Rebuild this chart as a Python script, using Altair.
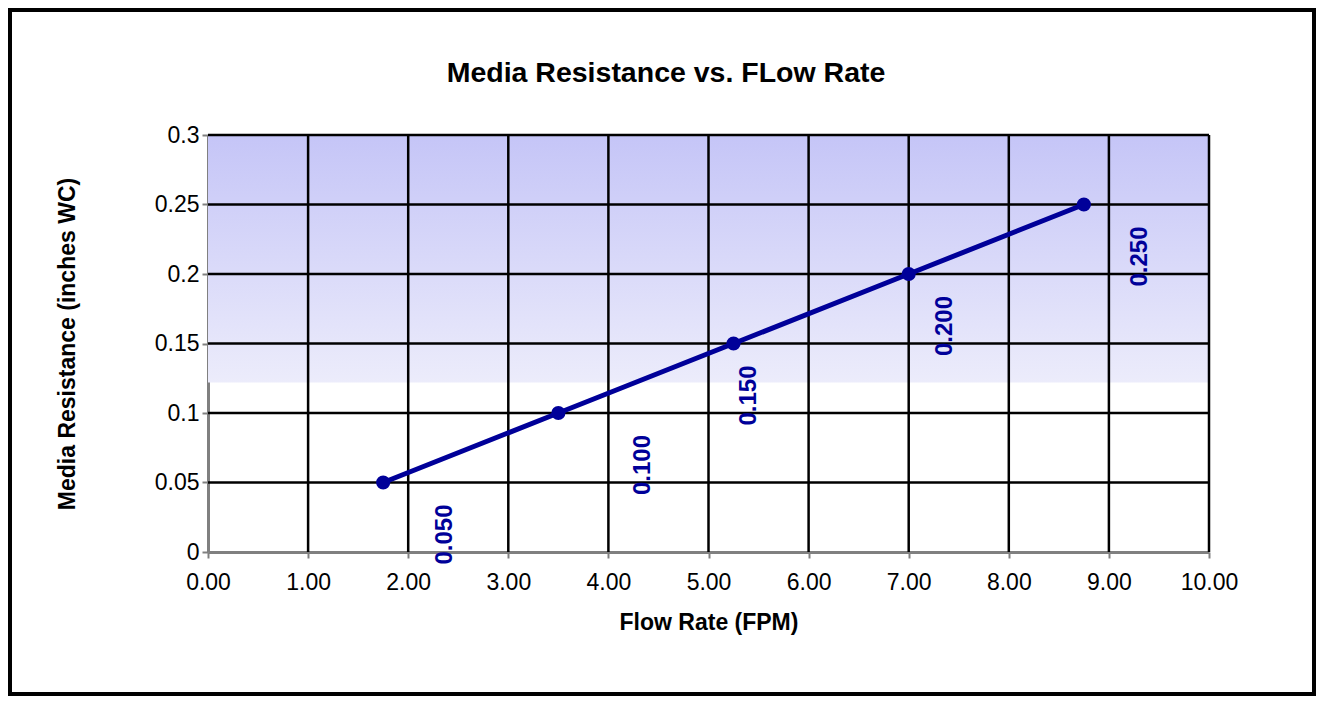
import altair as alt
import pandas as pd

# ---- data ----
flow_rate = [1.75, 3.50, 5.25, 7.00, 8.75]
resistance = [0.05, 0.10, 0.15, 0.20, 0.25]
label_text = ["0.050", "0.100", "0.150", "0.200", "0.250"]
label_flow = [2.37, 4.35, 5.40, 7.36, 9.31]
x_ticks = [0, 1, 2, 3, 4, 5, 6, 7, 8, 9, 10]
y_ticks = [0, 0.05, 0.10, 0.15, 0.20, 0.25, 0.30]
band_top, band_bottom = 0.30, 0.122   # extent of the shaded band
title_text = "Media Resistance vs. FLow Rate"

FONT = "Liberation Sans"
BLUE = "#000099"
GRID = "#000000"
AXISGRAY = "#808080"

df = pd.DataFrame({"flow": flow_rate, "res": resistance,
                   "label": label_text, "lflow": label_flow})
xg = pd.DataFrame({"flow": x_ticks[1:], "res": y_ticks[0], "res2": y_ticks[-1]})
yg = pd.DataFrame({"res": y_ticks[1:], "flow": x_ticks[0], "flow2": x_ticks[-1]})
band = pd.DataFrame({"flow": [x_ticks[0]], "flow2": [x_ticks[-1]],
                     "res": [band_top], "res2": [band_bottom]})
ttl = pd.DataFrame({"t": [title_text]})

xscale = alt.Scale(domain=[0, 10], nice=False, zero=False)
yscale = alt.Scale(domain=[0, 0.3], nice=False, zero=False)

x_axis = alt.Axis(
    values=x_ticks, format=".2f", grid=False, labelFlush=False, labelOverlap=False,
    labelFont=FONT, labelFontSize=23, labelColor="#000000", labelPadding=13,
    title="Flow Rate (FPM)", titleFont=FONT, titleFontSize=23,
    titleFontWeight="bold", titleColor="#000000", titlePadding=17,
    domainColor=AXISGRAY, domainWidth=3,
    tickColor=AXISGRAY, tickWidth=2, tickSize=6,
)
y_axis = alt.Axis(
    values=y_ticks, format="~g", grid=False, labelFlush=False, labelOverlap=False,
    labelFont=FONT, labelFontSize=23, labelColor="#000000", labelPadding=3,
    title="Media Resistance (inches WC)", titleFont=FONT, titleFontSize=23,
    titleFontWeight="bold", titleColor="#000000", titlePadding=75,
    domainColor=AXISGRAY, domainWidth=3,
    tickColor=AXISGRAY, tickWidth=2, tickSize=6,
)

X = alt.X("flow:Q", scale=xscale, axis=x_axis)
Y = alt.Y("res:Q", scale=yscale, axis=y_axis)

bg = alt.Chart(band).mark_rect(
    color=alt.Gradient(
        gradient="linear",
        stops=[alt.GradientStop(color="#c5c5f7", offset=0),
               alt.GradientStop(color="#ececfb", offset=1)],
        x1=0, x2=0, y1=0, y2=1,
    )
).encode(x=X, x2="flow2:Q", y=Y, y2="res2:Q")

vgrid = alt.Chart(xg).mark_rule(color=GRID, strokeWidth=2.5).encode(
    x=X, y=Y, y2="res2:Q",
)

hgrid = alt.Chart(yg).mark_rule(color=GRID, strokeWidth=2.5).encode(
    y=Y, x=X, x2="flow2:Q",
)

line = alt.Chart(df).mark_line(color=BLUE, strokeWidth=5).encode(x=X, y=Y)

points = alt.Chart(df).mark_circle(color=BLUE, size=200, opacity=1).encode(
    x=X, y=Y,
)

labels = alt.Chart(df).mark_text(
    angle=270, align="center", baseline="middle", dx=-52,
    font=FONT, fontSize=24, fontWeight="bold", color=BLUE,
).encode(
    x=alt.X("lflow:Q", scale=xscale, axis=x_axis),
    y=Y,
    text="label:N",
)

title = alt.Chart(ttl).mark_text(
    align="center", baseline="alphabetic", font=FONT, fontSize=28.5,
    fontWeight="bold", color="#000000",
).encode(x=alt.value(458), y=alt.value(-53), text="t:N")

frame = alt.Chart(ttl).mark_rect(
    fillOpacity=0, stroke="#000000", strokeWidth=4
).encode(
    x=alt.value(-198), x2=alt.value(1106),
    y=alt.value(-125), y2=alt.value(559),
)

chart = alt.layer(bg, vgrid, hgrid, line, points, labels, title, frame).properties(
    width=1001, height=417,
    autosize=alt.AutoSizeParams(type="none"),
    padding={"left": 200, "top": 127, "right": 107, "bottom": 144},
).configure_view(stroke=None)

chart.save("out.html", embed_options={"renderer": "svg", "actions": False})
